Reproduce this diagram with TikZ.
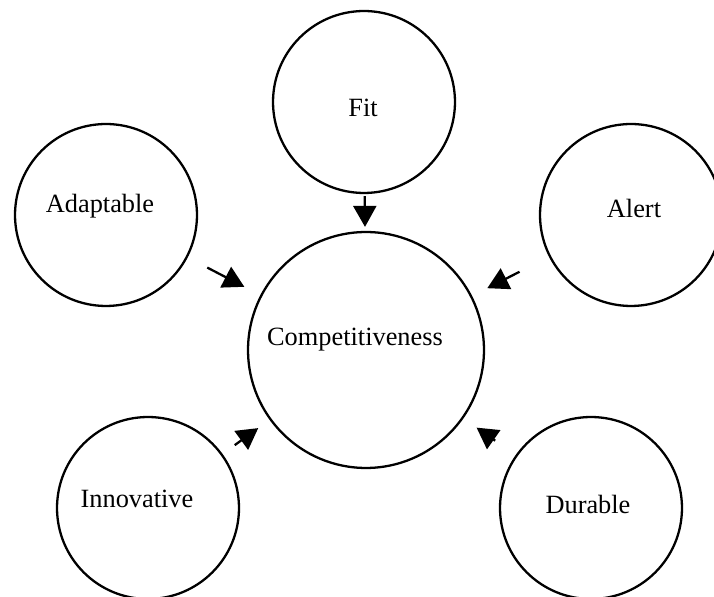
\documentclass[tikz,border=0pt]{standalone}
\usepackage{fontspec}
\setmainfont{Liberation Serif}
\usetikzlibrary{arrows.meta}

\begin{document}
\begin{tikzpicture}[x=0.02cm,y=-0.02cm,line width=1.3pt]

      \useasboundingbox (0,0) rectangle (714,597);
      \clip (0,0) rectangle (714,597);

      \begin{scope}[every node/.style={circle,draw,inner sep=0pt,minimum size=3.64cm}]
        \node (fit)   at (364,102) {};
        \node (adapt) at (106,215) {};
        \node (alert) at (631,215) {};
        \node (innov) at (148,508) {};
        \node (dur)   at (591,508) {};
        \node[minimum size=4.72cm] (comp) at (366,350) {};
      \end{scope}

      \begin{scope}[every node/.style={anchor=base,inner sep=0pt,font=\fontsize{15}{18}\selectfont}]
        \node (fitlbl)   at (363,117) {Fit};
        \node (adaptlbl) at (100,213) {Adaptable};
        \node (alertlbl) at (634,218) {Alert};
        \node (innovlbl) at (137,508) {Innovative};
        \node (durlbl)   at (588,514) {Durable};
        \node (complbl)  at (355,346) {Competitiveness};
      \end{scope}

      \begin{scope}[every edge/.style={draw,-{Triangle[length=0.42cm,width=0.46cm]}}]
        \path (fit)   edge[shorten <=0.04cm,shorten >=0.08cm] (comp);
        \path (adapt) edge[shorten <=0.44cm,shorten >=0.36cm] (comp);
        \path (alert) edge[shorten <=0.66cm,shorten >=0.34cm] (comp);
        \path (innov) edge[shorten <=0.3cm,shorten >=0.28cm]  (comp);
        \path (dur)   edge[shorten <=0.5cm,shorten >=0.32cm]  (comp);
      \end{scope}

    \end{tikzpicture}
\end{document}
